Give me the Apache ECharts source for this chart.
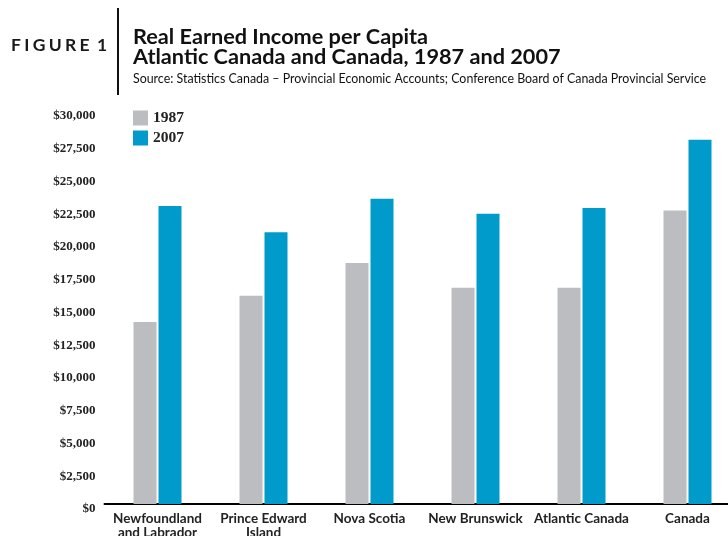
<!DOCTYPE html>
<html>
<head>
<meta charset="utf-8">
<script src="https://cdn.jsdelivr.net/npm/echarts@6/dist/echarts.min.js"></script>
<style>
  html, body { margin: 0; padding: 0; background: #fff; }
  #chart { width: 728px; height: 536px; }
</style>
</head>
<body>
<div id="chart"></div>
<script>
// Regions compared, in display order
const regions = [
  'Newfoundland\nand Labrador',
  'Prince Edward\nIsland',
  'Nova Scotia',
  'New Brunswick',
  'Atlantic Canada',
  'Canada'
];

// Real earned income per capita (dollars)
const income1987 = [13900, 15900, 18400, 16500, 16500, 22400];
const income2007 = [22750, 20750, 23300, 22150, 22600, 27800];

const seriesNames = ['1987', '2007'];

// Value axis ticks: $0 to $30,000 every $2,500
const yTicks = [0, 2500, 5000, 7500, 10000, 12500, 15000, 17500, 20000, 22500, 25000, 27500, 30000];

const GRAY = '#bcbdc1';
const BLUE = '#009acb';
const TS = '\u2009\u200A'; // narrow gap used to letter-space the figure tag

const chart = echarts.init(document.getElementById('chart'), null, { renderer: 'canvas' });

chart.setOption({
  animation: false,
  backgroundColor: '#ffffff',
  title: [
    {
      text: ['F', 'I', 'G', 'U', 'R', 'E', ' 1'].join(TS),
      left: 11, top: 36, padding: 0,
      textStyle: { fontFamily: 'Lato', fontSize: 17.5, fontWeight: 'bold', color: '#1a1a1a' }
    },
    {
      text: 'Real Earned Income per Capita\nAtlantic Canada and Canada, 1987 and 2007',
      left: 133, top: 27, padding: 0,
      textStyle: { fontFamily: 'Lato', fontSize: 21.7, fontWeight: 'bold', color: '#111', lineHeight: 20 }
    },
    {
      text: 'Source: Statistics Canada \u2013 Provincial Economic Accounts; Conference Board of Canada Provincial Service',
      left: 133, top: 73, padding: 0,
      textStyle: { fontFamily: 'Lato', fontSize: 12.4, fontWeight: 'normal', color: '#111' }
    }
  ],
  graphic: [
    { type: 'line', shape: { x1: 118, y1: 8, x2: 118, y2: 95 }, style: { stroke: '#111', lineWidth: 2 } }
  ],
  legend: {
    data: seriesNames,
    orient: 'vertical',
    left: 133, top: 110, padding: 0,
    itemWidth: 15, itemHeight: 15, itemGap: 4,
    icon: 'rect',
    textStyle: { fontFamily: 'Liberation Serif', fontSize: 15.5, fontWeight: 'bold', color: '#222' }
  },
  grid: { left: 104.5, top: 111, width: 636, bottom: 32, containLabel: false, outerBoundsMode: 'none' },
  xAxis: {
    type: 'category',
    data: regions,
    axisLine: { show: true, lineStyle: { color: '#000', width: 2 } },
    axisTick: { show: false },
    axisLabel: {
      margin: 8,
      interval: 0,
      fontFamily: 'Lato', fontSize: 13.5, fontWeight: 'bold', color: '#222', lineHeight: 14
    }
  },
  yAxis: {
    type: 'value',
    min: yTicks[0],
    max: yTicks[yTicks.length - 1],
    interval: yTicks[1] - yTicks[0],
    axisLine: { show: false },
    axisTick: { show: false },
    splitLine: { show: false },
    axisLabel: {
      margin: 9,
      verticalAlign: 'top',
      lineHeight: 10,
      fontFamily: 'Liberation Serif', fontSize: 13, fontWeight: 'bold', color: '#222',
      formatter: v => '$' + v.toLocaleString('en-US')
    }
  },
  series: [
    {
      name: seriesNames[0], type: 'bar', data: income1987,
      barWidth: 23, barGap: '8.7%',
      itemStyle: { color: GRAY }
    },
    {
      name: seriesNames[1], type: 'bar', data: income2007,
      barWidth: 23, barGap: '8.7%',
      itemStyle: { color: BLUE }
    }
  ]
});
</script>
</body>
</html>
